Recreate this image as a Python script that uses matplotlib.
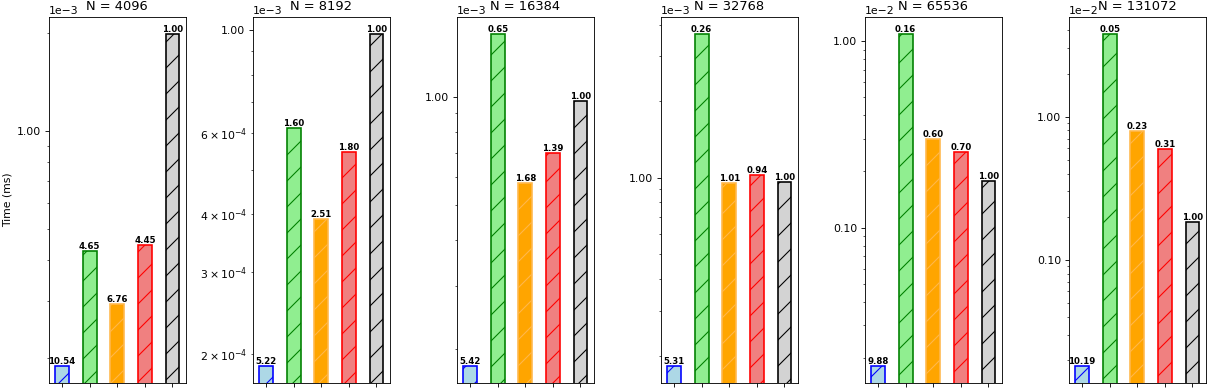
import numpy as np
import matplotlib
matplotlib.use('Agg')
import matplotlib.pyplot as plt
from matplotlib.ticker import ScalarFormatter

# problem sizes (one panel each)
sizes = [4096, 8192, 16384, 32768, 65536, 131072]

# measured times (ms), one list per implementation, ordered like sizes
blue_ms   = [1.888e-4, 1.881e-4, 1.793e-4, 1.814e-4, 1.801e-4, 1.799e-4]
green_ms  = [4.280e-4, 6.138e-4, 1.495e-3, 3.690e-3, 1.095e-2, 3.800e-2]
orange_ms = [2.944e-4, 3.912e-4, 5.786e-4, 9.535e-4, 2.965e-3, 7.970e-3]
red_ms    = [4.472e-4, 5.456e-4, 6.993e-4, 1.024e-3, 2.541e-3, 5.913e-3]
gray_ms   = [1.990e-3, 9.820e-4, 9.720e-4, 9.630e-4, 1.779e-3, 1.833e-3]  # baseline

faces = ['lightblue', 'lightgreen', 'orange', 'lightcoral', 'lightgray']
edges = ['blue', 'green', '#ffb84d', 'red', 'black']


class TwoDecimals(ScalarFormatter):
    def _set_format(self):
        self.format = '%1.2f'


DPI = 78
fig = plt.figure(figsize=(1207 / DPI, 388 / DPI), dpi=DPI)

for i, n in enumerate(sizes):
    ax = fig.add_axes([(49 + 204 * i) / 1207, 5 / 388, 136.6 / 1207, 366 / 388])
    ax.set_yscale('log')
    times = [blue_ms[i], green_ms[i], orange_ms[i], red_ms[i], gray_ms[i]]
    x = np.arange(len(times))
    for j in range(len(times)):
        ax.bar(x[j], times[j], width=0.5, color=faces[j], edgecolor=edges[j],
               hatch='/', linewidth=1.5)
        speedup = gray_ms[i] / times[j]
        ax.text(x[j], times[j], '%.2f' % speedup, ha='center', va='bottom',
                fontsize=8, fontweight='bold')

    fmt = TwoDecimals()
    fmt.set_powerlimits((0, 0))
    ax.yaxis.set_major_formatter(fmt)

    ax.set_xticks(x)
    ax.set_xticklabels([''] * len(x))
    # fixed y so the title stays level with the offset text
    ax.set_title('N = %d' % n, y=1.0)
    if i == 0:
        ax.set_ylabel('Time (ms)')

fig.savefig('out.png', dpi=DPI)
